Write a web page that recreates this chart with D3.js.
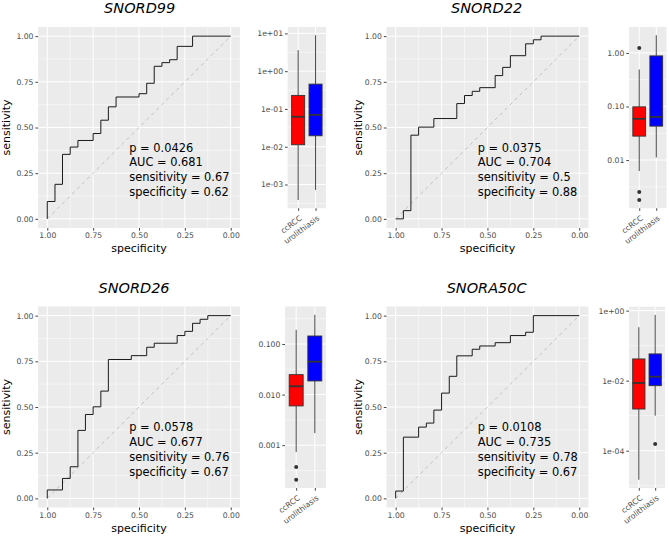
<!DOCTYPE html>
<html><head><meta charset="utf-8">
<script src="https://cdn.jsdelivr.net/npm/d3@7"></script>
<style>body{margin:0;background:#fff} svg{display:block}</style>
</head><body>
<svg id="chart" width="669" height="537"></svg>
<script>
// ---------------- DATA ----------------
const genes = ["SNORD99", "SNORD22", "SNORD26", "SNORA50C"];
const groups = ["ccRCC", "urolithiasis"];
const groupColors = ["#FF0000", "#0000FF"];

// ROC step points (specificity, sensitivity)
const rocSpecificity = [
  [1, 1, 0.958, 0.917, 0.875, 0.833, 0.75, 0.708, 0.667, 0.625, 0.5, 0.458, 0.417, 0.375, 0.333, 0.292, 0.208, 0],
  [1, 0.958, 0.917, 0.875, 0.792, 0.667, 0.625, 0.583, 0.542, 0.458, 0.417, 0.375, 0.292, 0.25, 0.208, 0],
  [1, 1, 0.917, 0.875, 0.833, 0.792, 0.75, 0.708, 0.667, 0.542, 0.458, 0.417, 0.292, 0.25, 0.208, 0.167, 0.125, 0],
  [1, 1, 0.958, 0.875, 0.833, 0.792, 0.75, 0.708, 0.667, 0.583, 0.542, 0.458, 0.375, 0.292, 0.25, 0]
];
const rocSensitivity = [
  [0, 0.095, 0.189, 0.353, 0.393, 0.429, 0.467, 0.54, 0.613, 0.667, 0.685, 0.742, 0.835, 0.855, 0.871, 0.944, 1, 1],
  [0, 0.045, 0.458, 0.502, 0.549, 0.631, 0.675, 0.698, 0.718, 0.784, 0.829, 0.893, 0.958, 0.98, 1, 1],
  [0, 0.046, 0.109, 0.173, 0.372, 0.459, 0.501, 0.587, 0.76, 0.781, 0.827, 0.849, 0.891, 0.914, 0.958, 0.98, 1, 1],
  [0, 0.04, 0.335, 0.39, 0.412, 0.483, 0.576, 0.668, 0.78, 0.816, 0.834, 0.852, 0.891, 0.909, 1, 1]
];
const pValues = ["0.0426", "0.0375", "0.0578", "0.0108"];
const aucValues = ["0.681", "0.704", "0.677", "0.735"];
const bestSensitivity = ["0.67", "0.5", "0.76", "0.78"];
const bestSpecificity = ["0.62", "0.88", "0.67", "0.67"];
const rocTicks = [0, 0.25, 0.5, 0.75, 1];
const rocTickLabels = ["0.00", "0.25", "0.50", "0.75", "1.00"];
const rocMinor = [0.125, 0.375, 0.625, 0.875];

// Boxplot stats: [lower whisker, Q1, median, Q3, upper whisker]
const boxCcRCC = [
  [3.9e-4, 0.0113, 0.062, 0.228, 3.59],
  [0.00624, 0.028, 0.0589, 0.0986, 0.49],
  [7.3e-4, 0.00597, 0.0146, 0.0248, 0.191],
  [1.48e-5, 0.00155, 0.0086, 0.0417, 0.336]
];
const boxUrolithiasis = [
  [7.2e-4, 0.0195, 0.070, 0.454, 8.93],
  [0.0112, 0.043, 0.064, 0.88, 2.14],
  [0.00173, 0.0186, 0.0448, 0.144, 0.379],
  [0.001, 0.0072, 0.013, 0.058, 0.753]
];
const outliersCcRCC = [[], [1.24, 0.00253, 0.0018], [3.7e-4, 2.07e-4], []];
const outliersUrolithiasis = [[], [], [], [1.55e-4]];
const boxTickValues = [[1e-3, 1e-2, 1e-1, 1, 10], [0.01, 0.1, 1], [0.001, 0.01, 0.1], [1e-4, 1e-2, 1]];
const boxTickLabels = [
  ["1e-03", "1e-02", "1e-01", "1e+00", "1e+01"],
  ["0.01", "0.10", "1.00"],
  ["0.001", "0.010", "0.100"],
  ["1e-04", "1e-02", "1e+00"]
];

// ---------------- LAYOUT ----------------
const layout = [
  {roc: [38.1, 239.9, 27, 228], box: [287.7, 326, 27, 208.2], titleY: 12.5, titleDx: 0.7, yTitleX: 10},
  {roc: [386.5, 588.4, 27, 228], box: [629, 666.5, 27, 208.2], titleY: 12.5, titleDx: -0.8, yTitleX: 362},
  {roc: [38.1, 239.9, 306.5, 507.5], box: [285, 326, 306.5, 488], titleY: 293, titleDx: -5, yTitleX: 10},
  {roc: [386.5, 588.4, 306.5, 507.5], box: [629, 665, 306.7, 488], titleY: 293, titleDx: -0.8, yTitleX: 362}
];
const FONT = "DejaVu Sans";
const TICK = 2.7;

const svg = d3.select("#chart");

function styleAxis(g) {
  g.attr("font-family", FONT).attr("font-size", 7.7);
  g.select(".domain").remove();
  g.selectAll(".tick line").attr("stroke", "#333333").attr("stroke-width", 0.9);
  g.selectAll(".tick text").attr("fill", "#4D4D4D");
}

genes.forEach((gene, i) => {
  const L = layout[i];
  const g = svg.append("g");

  // ---------- ROC ----------
  const [rx0, rx1, ry0, ry1] = L.roc;
  const x = d3.scaleLinear().domain([1.05, -0.05]).range([rx0, rx1]);
  const y = d3.scaleLinear().domain([-0.05, 1.05]).range([ry1, ry0]);

  g.append("rect").attr("x", rx0).attr("y", ry0).attr("width", rx1 - rx0).attr("height", ry1 - ry0).attr("fill", "#EBEBEB");
  const grid = g.append("g").attr("stroke", "#FFFFFF");
  rocMinor.forEach(v => {
    grid.append("line").attr("x1", x(v)).attr("x2", x(v)).attr("y1", ry0).attr("y2", ry1).attr("stroke-width", 0.5);
    grid.append("line").attr("y1", y(v)).attr("y2", y(v)).attr("x1", rx0).attr("x2", rx1).attr("stroke-width", 0.5);
  });
  rocTicks.forEach(v => {
    grid.append("line").attr("x1", x(v)).attr("x2", x(v)).attr("y1", ry0).attr("y2", ry1).attr("stroke-width", 1);
    grid.append("line").attr("y1", y(v)).attr("y2", y(v)).attr("x1", rx0).attr("x2", rx1).attr("stroke-width", 1);
  });
  g.append("line").attr("x1", x(1)).attr("y1", y(0)).attr("x2", x(0)).attr("y2", y(1))
    .attr("stroke", "#B5B5B5").attr("stroke-width", 0.8).attr("stroke-dasharray", "3.5,3.5");

  const pts = d3.zip(rocSpecificity[i], rocSensitivity[i]);
  g.append("path").attr("d", d3.line().x(d => x(d[0])).y(d => y(d[1])).curve(d3.curveStepAfter)(pts))
    .attr("fill", "none").attr("stroke", "#1A1A1A").attr("stroke-width", 1);

  g.append("g").attr("transform", `translate(${rx0},0)`)
    .call(d3.axisLeft(y).tickValues(rocTicks).tickFormat((d, k) => rocTickLabels[k]).tickSize(TICK).tickPadding(1.9))
    .call(styleAxis);
  g.append("g").attr("transform", `translate(0,${ry1})`)
    .call(d3.axisBottom(x).tickValues(rocTicks).tickFormat((d, k) => rocTickLabels[k]).tickSize(TICK).tickPadding(2))
    .call(styleAxis);

  g.append("text").attr("x", (rx0 + rx1) / 2).attr("y", ry1 + 24).attr("text-anchor", "middle")
    .attr("font-family", FONT).attr("font-size", 11).attr("fill", "#000").text("specificity");
  g.append("text").attr("transform", `translate(${L.yTitleX},${(ry0 + ry1) / 2}) rotate(-90)`).attr("text-anchor", "middle")
    .attr("font-family", FONT).attr("font-size", 11).attr("fill", "#000").text("sensitivity");

  g.append("text").attr("x", (rx0 + rx1) / 2 + L.titleDx).attr("y", L.titleY).attr("text-anchor", "middle")
    .attr("font-family", FONT).attr("font-size", 14.5).attr("font-style", "italic").attr("fill", "#000").text(gene);

  const ann = [`p = ${pValues[i]}`, `AUC = ${aucValues[i]}`, `sensitivity = ${bestSensitivity[i]}`, `specificity = ${bestSpecificity[i]}`];
  ann.forEach((t, k) => {
    g.append("text").attr("x", x(0.553)).attr("y", y(0.368) + k * 14.8)
      .attr("font-family", FONT).attr("font-size", 11.4).attr("fill", "#000").text(t);
  });

  // ---------- Boxplot ----------
  const [bx0, bx1, by0, by1] = L.box;
  const stats = [boxCcRCC[i], boxUrolithiasis[i]];
  const outs = [outliersCcRCC[i], outliersUrolithiasis[i]];
  const allVals = stats.flat().concat(outs.flat());
  const lmin = Math.log10(d3.min(allVals)), lmax = Math.log10(d3.max(allVals));
  const span = lmax - lmin;
  const yb = d3.scaleLog().domain([Math.pow(10, lmin - 0.05 * span), Math.pow(10, lmax + 0.05 * span)]).range([by1, by0]);
  const xb = d3.scalePoint().domain(groups).range([bx0, bx1]).padding(0.6);
  const step = xb.step();

  g.append("rect").attr("x", bx0).attr("y", by0).attr("width", bx1 - bx0).attr("height", by1 - by0).attr("fill", "#EBEBEB");
  const bgrid = g.append("g").attr("stroke", "#FFFFFF");
  const tv = boxTickValues[i];
  const ltv = tv.map(v => Math.log10(v));
  const dl = ltv[1] - ltv[0];
  const ext = [ltv[0] - dl].concat(ltv, [ltv[ltv.length - 1] + dl]);
  const [dlo, dhi] = yb.domain().map(v => Math.log10(v));
  for (let k = 0; k < ext.length - 1; k++) {
    const m = (ext[k] + ext[k + 1]) / 2;
    if (m >= dlo && m <= dhi) {
      bgrid.append("line").attr("x1", bx0).attr("x2", bx1).attr("y1", yb(Math.pow(10, m))).attr("y2", yb(Math.pow(10, m))).attr("stroke-width", 0.5);
    }
  }
  tv.forEach(v => {
    bgrid.append("line").attr("x1", bx0).attr("x2", bx1).attr("y1", yb(v)).attr("y2", yb(v)).attr("stroke-width", 1);
  });
  groups.forEach(gr => {
    bgrid.append("line").attr("x1", xb(gr)).attr("x2", xb(gr)).attr("y1", by0).attr("y2", by1).attr("stroke-width", 1);
  });

  groups.forEach((gr, k) => {
    const s = stats[k];
    const cx = xb(gr);
    const bw = 0.75 * step;
    g.append("line").attr("x1", cx).attr("x2", cx).attr("y1", yb(s[4])).attr("y2", yb(s[3])).attr("stroke", "#333333").attr("stroke-width", 0.9);
    g.append("line").attr("x1", cx).attr("x2", cx).attr("y1", yb(s[1])).attr("y2", yb(s[0])).attr("stroke", "#333333").attr("stroke-width", 0.9);
    g.append("rect").attr("x", cx - bw / 2).attr("y", yb(s[3])).attr("width", bw).attr("height", yb(s[1]) - yb(s[3]))
      .attr("fill", groupColors[k]).attr("stroke", "#333333").attr("stroke-width", 0.9);
    g.append("line").attr("x1", cx - bw / 2).attr("x2", cx + bw / 2).attr("y1", yb(s[2])).attr("y2", yb(s[2]))
      .attr("stroke", "#333333").attr("stroke-width", 1.8);
    outs[k].forEach(o => {
      g.append("circle").attr("cx", cx).attr("cy", yb(o)).attr("r", 2).attr("fill", "#333333");
    });
  });

  g.append("g").attr("transform", `translate(${bx0},0)`)
    .call(d3.axisLeft(yb).tickValues(tv).tickFormat((d, k) => boxTickLabels[i][k]).tickSize(TICK).tickPadding(1.9))
    .call(styleAxis);
  const xa = g.append("g").attr("transform", `translate(0,${by1})`)
    .call(d3.axisBottom(xb).tickSize(TICK).tickPadding(2))
    .call(styleAxis);
  xa.selectAll(".tick text").remove();
  groups.forEach(gr => {
    g.append("text")
      .attr("x", 0).attr("y", 0)
      .attr("transform", `translate(${xb(gr) + 1},${by1 + TICK + 4}) rotate(-37)`)
      .attr("text-anchor", "end").attr("dy", "0.71em")
      .attr("font-family", FONT).attr("font-size", 7.7).attr("fill", "#4D4D4D")
      .text(gr);
  });
});
</script>
</body></html>
